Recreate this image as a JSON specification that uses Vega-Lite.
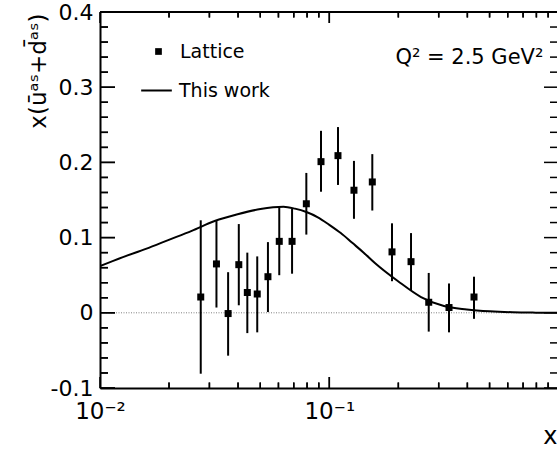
{
  "$schema": "https://vega.github.io/schema/vega-lite/v6.json",
  "width": 457,
  "height": 376,
  "autosize": {"type": "none"},
  "padding": {"left": 100, "top": 12, "right": 0, "bottom": 66},
  "background": "white",
  "config": {
    "view": {"stroke": null},
    "font": "DejaVu Sans",
    "axis": {"grid": false, "domainColor": "black", "tickColor": "black", "labelColor": "black", "titleColor": "black", "domainWidth": 2}
  },
  "datasets": {
    "lattice": [
      {"x": 0.0275, "y": 0.021, "lo": -0.081, "hi": 0.123},
      {"x": 0.0322, "y": 0.065, "lo": 0.007, "hi": 0.122},
      {"x": 0.0362, "y": -0.001, "lo": -0.057, "hi": 0.054},
      {"x": 0.0403, "y": 0.064, "lo": 0.010, "hi": 0.118},
      {"x": 0.0439, "y": 0.027, "lo": -0.027, "hi": 0.080},
      {"x": 0.0485, "y": 0.025, "lo": -0.026, "hi": 0.075},
      {"x": 0.0540, "y": 0.048, "lo": 0.001, "hi": 0.094},
      {"x": 0.0605, "y": 0.095, "lo": 0.050, "hi": 0.140},
      {"x": 0.0688, "y": 0.095, "lo": 0.052, "hi": 0.138},
      {"x": 0.0794, "y": 0.145, "lo": 0.104, "hi": 0.186},
      {"x": 0.0920, "y": 0.201, "lo": 0.161, "hi": 0.242},
      {"x": 0.1091, "y": 0.209, "lo": 0.170, "hi": 0.247},
      {"x": 0.1281, "y": 0.163, "lo": 0.125, "hi": 0.202},
      {"x": 0.1540, "y": 0.174, "lo": 0.136, "hi": 0.211},
      {"x": 0.1877, "y": 0.081, "lo": 0.042, "hi": 0.119},
      {"x": 0.2272, "y": 0.068, "lo": 0.030, "hi": 0.106},
      {"x": 0.2714, "y": 0.014, "lo": -0.025, "hi": 0.053},
      {"x": 0.3327, "y": 0.007, "lo": -0.026, "hi": 0.039},
      {"x": 0.4276, "y": 0.021, "lo": -0.008, "hi": 0.048}
    ],
    "curve": [
      {"x": 0.01, "y": 0.062},
      {"x": 0.012589, "y": 0.074},
      {"x": 0.015849, "y": 0.085},
      {"x": 0.019953, "y": 0.097},
      {"x": 0.025119, "y": 0.109},
      {"x": 0.031623, "y": 0.122},
      {"x": 0.039811, "y": 0.131},
      {"x": 0.050119, "y": 0.138},
      {"x": 0.063096, "y": 0.141},
      {"x": 0.070795, "y": 0.1385},
      {"x": 0.079433, "y": 0.134},
      {"x": 0.089125, "y": 0.127},
      {"x": 0.1, "y": 0.117},
      {"x": 0.112202, "y": 0.106},
      {"x": 0.125893, "y": 0.093},
      {"x": 0.141254, "y": 0.080},
      {"x": 0.158489, "y": 0.066},
      {"x": 0.199526, "y": 0.042},
      {"x": 0.251189, "y": 0.021},
      {"x": 0.316228, "y": 0.009},
      {"x": 0.398107, "y": 0.0045},
      {"x": 0.501187, "y": 0.002},
      {"x": 0.630957, "y": 0.0007},
      {"x": 0.794328, "y": 0.0002},
      {"x": 1.0, "y": 0.0}
    ],
    "note": [
      {"x": 0.858, "y": 0.3305, "label": "Q² = 2.5 GeV²"}
    ],
    "yticks": [
      {"v": -0.1}, {"v": -0.08}, {"v": -0.06}, {"v": -0.04}, {"v": -0.02},
      {"v": 0}, {"v": 0.02}, {"v": 0.04}, {"v": 0.06}, {"v": 0.08},
      {"v": 0.1}, {"v": 0.12}, {"v": 0.14}, {"v": 0.16}, {"v": 0.18},
      {"v": 0.2}, {"v": 0.22}, {"v": 0.24}, {"v": 0.26}, {"v": 0.28},
      {"v": 0.3}, {"v": 0.32}, {"v": 0.34}, {"v": 0.36}, {"v": 0.38}, {"v": 0.4}
    ],
    "xticks": [
      {"v": 0.01}, {"v": 0.02}, {"v": 0.03}, {"v": 0.04}, {"v": 0.05}, {"v": 0.06}, {"v": 0.07}, {"v": 0.08}, {"v": 0.09},
      {"v": 0.1}, {"v": 0.2}, {"v": 0.3}, {"v": 0.4}, {"v": 0.5}, {"v": 0.6}, {"v": 0.7}, {"v": 0.8}, {"v": 0.9}
    ]
  },
  "resolve": {
    "scale": {"x": "independent", "y": "independent"},
    "axis": {"x": "independent", "y": "independent"}
  },
  "layer": [
    {
      "data": {"name": "note"},
      "mark": {"type": "rule", "color": "#808080", "strokeDash": [1, 1.5], "strokeWidth": 1},
      "encoding": {
        "y": {"datum": 0, "type": "quantitative", "scale": {"domain": [-0.1, 0.4], "nice": false, "zero": false}, "axis": null}
      }
    },
    {
      "data": {"name": "note"},
      "mark": {"type": "rule", "color": "black", "strokeWidth": 2},
      "encoding": {
        "y": {"datum": 0.4, "type": "quantitative", "scale": {"domain": [-0.1, 0.4], "nice": false, "zero": false}, "axis": null}
      }
    },
    {
      "data": {"name": "note"},
      "mark": {"type": "rule", "color": "black", "strokeWidth": 2},
      "encoding": {
        "x": {"datum": 0.01, "type": "quantitative", "scale": {"type": "log", "domain": [0.01, 0.984], "nice": false}, "axis": null},
        "x2": {"datum": 0.984},
        "y": {"datum": 0.4, "type": "quantitative", "scale": {"domain": [-0.1, 0.4], "nice": false, "zero": false}, "axis": null}
      }
    },
    {
      "data": {"name": "yticks"},
      "mark": {"type": "tick", "orient": "horizontal", "color": "black", "thickness": 1.5, "opacity": 1, "clip": true},
      "encoding": {
        "x": {"datum": 0.01, "type": "quantitative", "scale": {"type": "log", "domain": [0.01, 0.984], "nice": false}, "axis": null},
        "y": {"field": "v", "type": "quantitative", "scale": {"domain": [-0.1, 0.4], "nice": false, "zero": false}, "axis": null},
        "size": {"condition": {"test": "abs(datum.v*10 - round(datum.v*10)) < 0.001", "value": 30}, "value": 16}
      }
    },
    {
      "data": {"name": "yticks"},
      "mark": {"type": "tick", "orient": "horizontal", "color": "black", "thickness": 1.5, "opacity": 1, "clip": true},
      "encoding": {
        "x": {"datum": 0.984, "type": "quantitative", "scale": {"type": "log", "domain": [0.01, 0.984], "nice": false}, "axis": null},
        "y": {"field": "v", "type": "quantitative", "scale": {"domain": [-0.1, 0.4], "nice": false, "zero": false}, "axis": null},
        "size": {"condition": {"test": "abs(datum.v*10 - round(datum.v*10)) < 0.001", "value": 26}, "value": 14}
      }
    },
    {
      "data": {"name": "xticks"},
      "mark": {"type": "tick", "orient": "vertical", "color": "black", "thickness": 1.5, "opacity": 1, "clip": true},
      "encoding": {
        "x": {"field": "v", "type": "quantitative", "scale": {"type": "log", "domain": [0.01, 0.984], "nice": false}, "axis": null},
        "y": {"datum": -0.1, "type": "quantitative", "scale": {"domain": [-0.1, 0.4], "nice": false, "zero": false}, "axis": null},
        "size": {"condition": {"test": "abs(log(datum.v)/LN10 - round(log(datum.v)/LN10)) < 0.001", "value": 22}, "value": 11}
      }
    },
    {
      "data": {"name": "xticks"},
      "mark": {"type": "tick", "orient": "vertical", "color": "black", "thickness": 1.5, "opacity": 1, "clip": true},
      "encoding": {
        "x": {"field": "v", "type": "quantitative", "scale": {"type": "log", "domain": [0.01, 0.984], "nice": false}, "axis": null},
        "y": {"datum": 0.4, "type": "quantitative", "scale": {"domain": [-0.1, 0.4], "nice": false, "zero": false}, "axis": null},
        "size": {"condition": {"test": "abs(log(datum.v)/LN10 - round(log(datum.v)/LN10)) < 0.001", "value": 22}, "value": 11}
      }
    },
    {
      "data": {"name": "yticks"},
      "transform": [{"filter": "abs(datum.v*10 - round(datum.v*10)) < 0.001"}],
      "mark": {"type": "rule", "color": "black", "strokeWidth": 1.5, "x2Offset": 15},
      "encoding": {
        "x": {"datum": 0.01, "type": "quantitative", "scale": {"type": "log", "domain": [0.01, 0.984], "nice": false}, "axis": null},
        "x2": {"datum": 0.01},
        "y": {"field": "v", "type": "quantitative", "scale": {"domain": [-0.1, 0.4], "nice": false, "zero": false}, "axis": null}
      }
    },
    {
      "data": {"name": "yticks"},
      "transform": [{"filter": "abs(datum.v*10 - round(datum.v*10)) >= 0.001"}],
      "mark": {"type": "rule", "color": "black", "strokeWidth": 1.5, "x2Offset": 8},
      "encoding": {
        "x": {"datum": 0.01, "type": "quantitative", "scale": {"type": "log", "domain": [0.01, 0.984], "nice": false}, "axis": null},
        "x2": {"datum": 0.01},
        "y": {"field": "v", "type": "quantitative", "scale": {"domain": [-0.1, 0.4], "nice": false, "zero": false}, "axis": null}
      }
    },
    {
      "data": {"name": "xticks"},
      "transform": [{"filter": "abs(log(datum.v)/LN10 - round(log(datum.v)/LN10)) < 0.001"}],
      "mark": {"type": "rule", "color": "black", "strokeWidth": 1.5, "y2Offset": -11},
      "encoding": {
        "x": {"field": "v", "type": "quantitative", "scale": {"type": "log", "domain": [0.01, 0.984], "nice": false}, "axis": null},
        "y": {"datum": -0.1, "type": "quantitative", "scale": {"domain": [-0.1, 0.4], "nice": false, "zero": false}, "axis": null},
        "y2": {"datum": -0.1}
      }
    },
    {
      "data": {"name": "xticks"},
      "transform": [{"filter": "abs(log(datum.v)/LN10 - round(log(datum.v)/LN10)) >= 0.001"}],
      "mark": {"type": "rule", "color": "black", "strokeWidth": 1.5, "y2Offset": -5.5},
      "encoding": {
        "x": {"field": "v", "type": "quantitative", "scale": {"type": "log", "domain": [0.01, 0.984], "nice": false}, "axis": null},
        "y": {"datum": -0.1, "type": "quantitative", "scale": {"domain": [-0.1, 0.4], "nice": false, "zero": false}, "axis": null},
        "y2": {"datum": -0.1}
      }
    },
    {
      "data": {"name": "xticks"},
      "transform": [{"filter": "abs(log(datum.v)/LN10 - round(log(datum.v)/LN10)) < 0.001"}],
      "mark": {"type": "rule", "color": "black", "strokeWidth": 1.5, "y2Offset": 11},
      "encoding": {
        "x": {"field": "v", "type": "quantitative", "scale": {"type": "log", "domain": [0.01, 0.984], "nice": false}, "axis": null},
        "y": {"datum": 0.4, "type": "quantitative", "scale": {"domain": [-0.1, 0.4], "nice": false, "zero": false}, "axis": null},
        "y2": {"datum": 0.4}
      }
    },
    {
      "data": {"name": "xticks"},
      "transform": [{"filter": "abs(log(datum.v)/LN10 - round(log(datum.v)/LN10)) >= 0.001"}],
      "mark": {"type": "rule", "color": "black", "strokeWidth": 1.5, "y2Offset": 5.5},
      "encoding": {
        "x": {"field": "v", "type": "quantitative", "scale": {"type": "log", "domain": [0.01, 0.984], "nice": false}, "axis": null},
        "y": {"datum": 0.4, "type": "quantitative", "scale": {"domain": [-0.1, 0.4], "nice": false, "zero": false}, "axis": null},
        "y2": {"datum": 0.4}
      }
    },
    {
      "data": {"name": "curve"},
      "mark": {"type": "line", "strokeWidth": 2, "interpolate": "monotone", "clip": true},
      "encoding": {
        "x": {"field": "x", "type": "quantitative", "scale": {"type": "log", "domain": [0.01, 0.984], "nice": false}, "axis": null},
        "y": {"field": "y", "type": "quantitative", "scale": {"domain": [-0.1, 0.4], "nice": false, "zero": false}, "axis": null},
        "color": {
          "datum": "This work", "type": "nominal",
          "scale": {"domain": ["This work"], "range": ["black"]},
          "legend": {
            "title": null, "orient": "none", "legendX": 40, "legendY": 62, "padding": 0,
            "symbolType": "stroke", "symbolSize": 940, "symbolStrokeWidth": 2, "symbolStrokeColor": "black",
            "labelFont": "DejaVu Sans", "labelFontSize": 19, "labelColor": "black", "labelOffset": 6
          }
        }
      }
    },
    {
      "data": {"name": "lattice"},
      "mark": {"type": "rule", "color": "black", "strokeWidth": 2},
      "encoding": {
        "x": {"field": "x", "type": "quantitative", "scale": {"type": "log", "domain": [0.01, 0.984], "nice": false}, "axis": null},
        "y": {"field": "lo", "type": "quantitative", "scale": {"domain": [-0.1, 0.4], "nice": false, "zero": false}, "axis": null},
        "y2": {"field": "hi"}
      }
    },
    {
      "data": {"name": "lattice"},
      "mark": {"type": "point", "shape": "square", "size": 49, "filled": true, "color": "black", "opacity": 1},
      "encoding": {
        "x": {
          "field": "x", "type": "quantitative",
          "scale": {"type": "log", "domain": [0.01, 0.984], "nice": false},
          "axis": {
            "orient": "bottom",
            "values": [0.01, 0.1, 1],
            "ticks": false,
            "labelExpr": "datum.value < 0.05 ? '10⁻²' : (datum.value < 0.5 ? '10⁻¹' : '1')",
            "labelFont": "DejaVu Sans", "labelFontSize": 23, "labelPadding": 12,
            "labelFlush": false, "labelOverlap": false, "labelBound": false,
            "title": "x", "titleFont": "DejaVu Sans", "titleFontSize": 24, "titleFontWeight": "normal",
            "titleX": 457, "titleY": 55, "titleAlign": "right", "titleBaseline": "alphabetic"
          }
        },
        "y": {
          "field": "y", "type": "quantitative",
          "scale": {"domain": [-0.1, 0.4], "nice": false, "zero": false},
          "axis": {
            "orient": "left",
            "values": [-0.1, 0, 0.1, 0.2, 0.3, 0.4],
            "ticks": false,
            "labelExpr": "abs(datum.value) < 0.001 ? '0' : (datum.value < 0 ? '-' : '') + format(abs(datum.value), '.1f')",
            "labelFont": "DejaVu Sans", "labelFontSize": 22, "labelPadding": 7,
            "labelOverlap": false, "labelBound": false, "labelFlush": false,
            "title": "x(ūᵃˢ+d̄ᵃˢ)", "titleFont": "DejaVu Sans", "titleFontSize": 23, "titleFontWeight": "normal",
            "titleAngle": 270, "titleX": -55, "titleY": 1, "titleAlign": "right", "titleBaseline": "alphabetic"
          }
        },
        "shape": {
          "datum": "Lattice", "type": "nominal",
          "scale": {"domain": ["Lattice"], "range": ["square"]},
          "legend": {
            "title": null, "orient": "none", "legendX": 49, "legendY": 30, "padding": 0,
            "symbolSize": 45, "symbolFillColor": "black", "symbolStrokeWidth": 0,
            "labelFont": "DejaVu Sans", "labelFontSize": 19, "labelColor": "black", "labelOffset": 12
          }
        }
      }
    },
    {
      "data": {"name": "note"},
      "mark": {"type": "text", "align": "right", "baseline": "alphabetic", "font": "DejaVu Sans", "fontSize": 21, "color": "black"},
      "encoding": {
        "x": {"field": "x", "type": "quantitative", "scale": {"type": "log", "domain": [0.01, 0.984], "nice": false}, "axis": null},
        "y": {"field": "y", "type": "quantitative", "scale": {"domain": [-0.1, 0.4], "nice": false, "zero": false}, "axis": null},
        "text": {"field": "label"}
      }
    }
  ]
}
